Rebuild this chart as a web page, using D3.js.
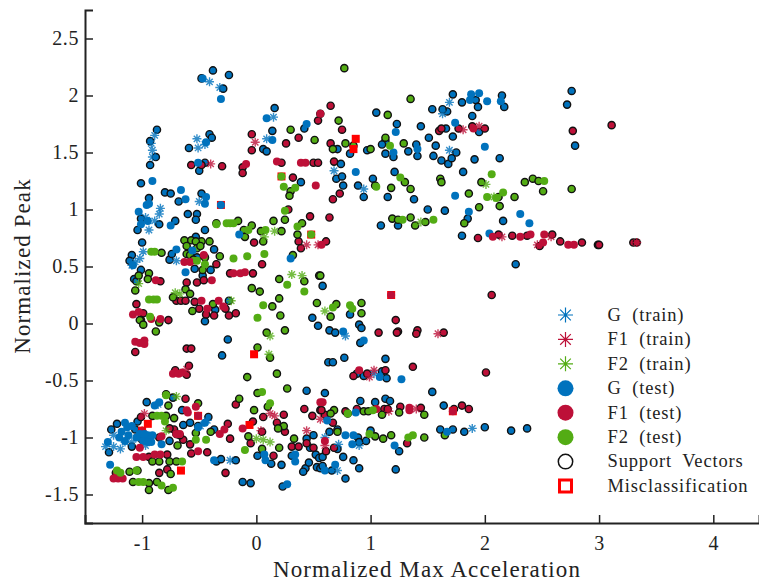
<!DOCTYPE html>
<html>
<head>
<meta charset="utf-8">
<script src="https://cdn.jsdelivr.net/npm/d3@7"></script>
<style>
  html, body { margin: 0; padding: 0; background: #fff; }
  svg { display: block; }
  text { font-family: "Liberation Serif", serif; fill: #222; }
</style>
</head>
<body>
<div id="chart"></div>
<script>
const xTicks = [-1, 0, 1, 2, 3, 4]
const yTicks = [-1.5, -1, -0.5, 0, 0.5, 1, 1.5, 2, 2.5]
const legendLabels = ['G (train)', 'F1 (train)', 'F2 (train)', 'G (test)', 'F1 (test)', 'F2 (test)', 'Support Vectors', 'Misclassification']

// training points (stars) as [x, y]
const gTrain = [[-0.41,2.12],[-0.32,2.07],[0.15,1.81],[-0.89,1.65],[-0.92,1.58],[-0.91,1.52],[-0.91,1.46],[-0.52,1.62],[-0.51,1.54],[-0.45,1.57],[0.09,1.62],[-0.50,1.07],
  [-0.84,1.01],[-0.85,0.96],[-0.94,0.82],[-0.89,0.90],[-0.97,0.93],[-1.02,0.57],[-0.99,0.63],[-0.70,0.55],[-1.06,0.54],[-1.09,0.51],
  [-1.32,-1.08],[-1.25,-1.08],[-1.19,-1.10],[-1.25,-0.98],[-1.15,-1.04],[-1.09,-1.04],[-0.97,-1.07],[-0.23,-1.20],[-0.43,-0.85],[-0.49,-0.90],[-0.86,-0.71],
  [1.69,1.94],[1.63,1.84],[1.69,1.52],[0.68,1.34],[0.94,1.18],
  [0.78,-0.11],[1.89,-0.92],[1.03,-0.44],[0.71,-1.29],[0.72,-1.06],[0.90,-1.07],[0.60,-1.00]]
const f1Train = [[-0.01,1.59],[-0.40,1.40],[0.44,0.69],[0.54,0.69],[-0.61,-0.40],
  [-1.00,-0.94],[-0.98,-0.79],[0.12,-0.79],[0.16,-0.81],[0.44,-0.94],[0.04,-0.94],[0.56,-0.84],
  [1.81,1.70],[1.95,1.73],[2.15,0.76],[2.58,0.76],[3.33,0.71],[2.46,0.69],
  [1.59,-0.09],[1.03,-0.41],[0.99,-0.47],[1.40,-0.75],[1.16,-0.77],[0.60,-1.07]]
const f2Train = [[0.16,0.81],[0.31,0.43],[0.40,0.42],[0.12,-0.11],[-0.71,0.27],[-0.67,0.26],[-0.22,0.20],[-1.03,0.35],[0.07,0.76],[0.11,-0.27],
  [0,-1.01],[0.06,-1.02],[0.12,-1.04],[-0.79,-0.94],[-0.70,-0.64],
  [1.44,0.89],[2.01,1.22],[2.08,1.11],[0.60,0.11]]

// test points without a ring
const gTest = [[-0.47,2.15],[-0.31,1.97],[0.09,1.80],[0.14,1.61],[0.44,1.75],[-0.91,1.25],[-0.66,1.17],[-0.62,1.09],[-0.44,1.11],[-0.51,1.41],[-0.44,1.59],
  [-0.31,1.04],[-1.03,0.98],[-0.96,1.04],[-0.94,1.05],[-1.01,0.87],[-0.95,0.90],[-0.75,0.86],[-0.45,1.05],[-0.15,0.78],[-0.70,0.65],[-0.62,0.45],[-0.56,0.64],[0.30,0.57],[-1.08,0.51],
  [-1.15,-0.87],[-1.13,-0.91],[-1.18,-0.95],[-1.15,-1.03],[-1.09,-0.90],[-0.99,-1.03],[-0.95,-0.98],[-0.91,-0.98],[-0.92,-1.04],[-0.83,-1.06],[-1.28,-1.24],[-1.30,-1.04],[-0.37,-1.20],[-0.89,-0.72],[-0.85,-0.69],[-0.51,-0.91],[-0.45,-0.87],[0.27,-1.41],[0.07,-1.15],[0.08,-1.20],[0.34,-1.21],[0.34,-1.15],
  [-1.20,-1.00],[-1.12,-0.98],[-1.05,-1.00],[-1.02,-0.97],[-0.98,-0.97],[-0.95,-1.04],
  [1.88,2.01],[1.95,2.02],[1.87,1.96],[2.02,1.95],[2.14,1.95],[1.74,1.76],[1.22,1.68],[1.20,1.50],[1.41,1.53],[2.00,1.55],[0.87,1.33],[1.74,1.12],[1.86,0.98],[2.31,0.96],[2.39,0.88],[2.04,0.79],
  [1.27,-0.49],[1.08,-0.47],[0.87,-0.78],[0.78,-0.98],[0.85,-0.98],[0.84,-1.06],[1.21,-1.07],[1.67,-0.95],[0.69,-1.24],[0.60,-1.29],[0.94,-0.15],[0.76,-0.07],[0.62,-0.85]]
const f1Test = [[-0.09,1.40],[0.18,1.42],[0.39,1.41],[0.43,1.41],[0.52,1.21],[0.56,1.84],
  [-0.20,0.44],[-0.14,0.44],[-0.10,0.45],[-0.88,0.38],[-0.39,0.38],[-0.48,0.20],[-0.33,0.20],[-0.29,0.15],[-1.08,0.08],[-1.03,0.10],[-0.92,0.04],[-0.84,0.04],[-1.06,-0.16],[-0.98,-0.15],[-0.98,-0.18],[-1.02,-0.17],[-0.63,0.54],[-0.58,0.54],[-0.46,0.60],[-0.43,0.13],
  [-0.53,-0.73],[-0.51,-0.81],[-1.02,-1.09],[-1.05,-1.17],[-0.99,-1.17],[-0.89,-1.15],[-0.84,-1.15],[-1.25,-1.36],[-1.21,-1.36],[-1.17,-1.36],[-0.51,-1.12],[-0.32,-0.97],[-0.28,-0.93],[-0.12,-0.92],[-0.73,-0.44],[-0.68,-0.44],[-0.65,-0.43],[-0.67,-0.97],[-0.61,-0.76],[-0.60,-0.78],[-0.70,-0.97],[-0.83,-0.99],[0.56,-0.69],
  [1.90,1.71],[2.31,0.76],[2.40,0.78],[2.52,0.78],[2.07,0.76],[2.73,0.69],[2.78,0.69],[2.51,0.71],[0.57,0.69],
  [0.90,-0.41],[1.18,0.25],[1.34,-0.74],[1.34,-0.76],[1.05,-0.75],[0.60,-1.03],[0.58,-0.69],[1.72,-0.77]]
const f2Test = [[0.22,1.29],[0.24,1.20],[0.34,1.19],
  [-0.26,0.88],[-0.23,0.88],[-0.20,0.88],[0.08,0.82],[-0.20,0.57],[-0.08,0.59],[0.07,0.61],[0.27,0.34],[0.42,0.28],[0.06,0.16],[0.01,0.05],[0.25,0.99],[0.48,0.78],[0.36,0.85],[-0.92,0.63],[-0.89,0.63],[-0.94,0.21],[-0.90,0.21],[-0.87,0.21],[-0.93,0.06],[-0.52,0.55],[-0.45,0.52],[-0.07,0.82],[-0.35,0.87],
  [0.05,-0.60],[0.12,-0.70],[-0.10,-1.11],[-0.87,-0.81],[-0.83,-0.81],[-0.80,-0.86],[-0.53,-1.02],[-0.44,-1.02],[-0.65,-1.21],[-0.99,-1.39],[-1.03,-1.39],[-0.83,-1.42],[-0.73,-1.44],[-1.05,-1.29],[-0.79,-0.63],[-1.22,-1.29],[-1.19,-1.31],
  [1.26,1.28],[1.05,1.20],[1.28,0.91],[1.55,0.91],[2.06,1.31],[2.52,1.25],[2.16,1.15],[2.02,1.11],[2.10,1.10],[1.17,1.56],
  [0.67,0.14],[0.82,0.16],[0.84,0.13],[1.02,-0.76],[0.80,-0.79],[0.99,-0.97],[1.33,-1.00],[1.37,-0.98]]

// support vectors, same classes but with the black ring
const gSupport = [[-0.38,2.22],[-0.24,2.18],[-0.48,2.15],[-0.29,2.06],[-0.87,1.70],[-0.93,1.60],[-0.41,1.66],[-0.39,1.63],[-0.59,1.54],[-0.88,1.46],[-0.93,1.39],[-0.45,1.41],[-0.50,1.34],[0.06,1.53],[0.09,1.51],[0.16,1.89],[0.14,1.69],[0.42,1.71],[0.39,1.24],[-1.01,1.23],[-0.80,1.15],[-0.75,1.14],[-0.48,1.14],[-0.94,1.10],[-0.68,1.07],
  [-0.60,0.96],[-0.52,0.96],[-0.53,0.91],[-1.01,0.92],[-0.85,0.87],[-0.71,0.90],[-1.04,0.82],[-0.45,0.82],[-1.00,0.71],[-1.09,0.60],[-1.11,0.55],[-0.76,0.56],[-0.74,0.61],[-0.53,0.76],[-0.52,0.58],[-0.54,0.48],[-0.47,0.42],[-0.40,0.47],[-0.37,0.65],[-1.01,0.47],[-1.07,0.39],[-1.05,0.37],[-0.36,0.12],[-0.45,0.02],[-0.25,-0.14],[-0.30,-0.28],[0.49,0.05],[0.54,-0.02],[-0.24,0.20],
  [-1.22,-0.88],[-1.27,-0.93],[-1.29,-1.13],[-1.06,-0.93],[-1.04,-0.86],[-0.96,-0.69],[-1.00,-1.02],[-1.09,-1.08],[-0.73,-0.65],[-0.65,-0.76],[-0.64,-0.89],[-0.58,-0.87],[-0.51,-0.90],[-0.42,-0.82],[-0.76,-1.03],[-0.37,-0.93],[-0.35,-1.21],[-0.31,-1.19],[-0.18,-1.20],[-0.12,-1.39],[-0.05,-1.40],[0.23,-1.43],[0.44,-0.59],[0.01,-1.16],[0.13,-1.23],[0.22,-1.24],[0.31,-1.16],[0.43,-1.27],[0.41,-1.30],[0.46,-1.22],[0.53,-1.26],[0.56,-1.27],[0.44,-1.01],[0.50,-0.98],[0.52,-1.15],[0.47,-1.09],[0.55,-1.18],
  [1.05,1.85],[1.23,1.75],[1.44,1.73],[1.54,1.88],[1.72,2.01],[1.80,1.94],[1.92,1.96],[1.94,1.90],[1.89,1.82],[2.15,2.00],[2.17,1.90],[1.67,1.86],[1.63,1.88],[2.76,2.04],[2.72,1.92],[2.79,1.56],[1.66,1.71],[1.95,1.68],[1.72,1.64],[1.51,1.63],[1.57,1.56],[1.40,1.57],[1.33,1.51],[1.13,1.60],[1.10,1.57],[1.13,1.49],[1.20,1.46],[1.41,1.47],[1.55,1.47],[1.62,1.43],[1.68,1.40],[1.71,1.45],[1.75,1.50],[1.91,1.44],[2.13,1.45],[1.81,1.33],[1.21,1.33],[1.02,1.27],[0.89,1.21],[0.94,1.11],[1.15,1.11],[1.38,1.09],[1.50,1.00],[1.65,0.99],[1.85,0.92],[2.16,0.90],[1.24,0.86],[1.09,0.86],[1.80,0.77],[0.97,1.52],[0.82,1.49],[0.71,1.53],[0.74,1.40],[0.70,1.27],[0.75,1.29],[0.76,1.21],
  [2.27,0.52],[0.58,0.33],[0.82,0.08],[0.90,-0.01],[0.92,-0.04],[0.64,-0.06],[0.69,-0.08],[0.91,-0.17],[0.63,-0.34],[0.67,-0.34],[0.77,-0.30],[1.13,-0.31],[0.88,-0.44],[0.94,-0.46],[1.10,-0.42],[1.14,-0.48],[1.54,-0.60],[0.60,-0.61],[0.91,-0.68],[1.04,-0.69],[1.13,-0.66],[1.17,-0.68],[1.64,-0.72],[2.00,-0.91],[1.61,-0.93],[1.72,-0.93],[1.82,-0.95],[2.23,-0.94],[2.37,-0.92],[1.00,-0.94],[0.64,-0.95],[0.89,-1.00],[0.90,-1.04],[0.96,-1.03],[0.71,-0.93],[1.25,-1.12],[0.85,-1.20],[0.76,-1.17],[0.90,-1.27],[1.22,-1.28],[0.78,-1.36],[0.66,-1.29],[0.58,-1.25],[0.58,-1.17],[0.71,-1.10]]
const f1Support = [[-0.57,1.39],[-0.30,1.38],[-0.48,1.39],[-0.04,1.66],[-0.04,1.52],[-0.12,1.37],[-0.12,1.32],[0.22,1.41],[0.26,1.58],[0.37,1.63],[0.54,1.78],[0.32,1.28],[0.50,1.41],[0.54,1.41],
  [0.28,1.00],[0.47,0.94],[0.37,0.72],[0.39,0.66],[-0.02,0.71],[0.05,0.52],[-0.35,0.52],[-0.03,0.44],[-0.23,0.44],[-0.84,0.37],[-0.61,0.36],[-0.52,0.36],[-0.46,0.38],[-0.70,0.20],[-0.66,0.20],[-0.62,0.20],[-0.54,0.19],[-1.05,0.17],[-0.99,0.09],[-1.01,0.03],[-0.77,0.03],[-0.50,0.13],[-0.44,0.08],[-0.37,0.07],[-0.27,0.13],[-0.24,0.07],[-0.18,0.09],[-1.06,-0.25],[-0.61,-0.22],[-0.57,-0.22],[-0.71,-0.41],[-0.59,-0.37],
  [-1.01,-0.82],[-0.62,-0.66],[-0.72,-0.93],[-0.64,-1.02],[-0.58,-1.06],[-0.57,-1.14],[-0.43,-1.13],[-0.78,-1.15],[-0.94,-1.17],[-0.85,-1.31],[-0.78,-1.28],[-0.27,-1.31],[-0.18,-0.71],[-0.03,-0.86],[-0.25,-0.88],[-0.23,-1.01],[-0.05,-1.05],[0.05,-0.95],[0.06,-0.82],[0.24,-0.80],[0.18,-0.87],[0.25,-0.95],[0.42,-0.75],[0.49,-0.81],[0.56,-0.76],[0.31,-1.08],[0.37,-1.08],[0.44,-1.05],[0.50,-1.09],[0.15,-1.16],[-0.61,-0.45],[-1.23,-1.31],[-0.85,-1.00],[-0.93,-0.99],[-0.70,-0.97],[-0.67,-0.98],[-0.76,-0.92],
  [0.65,1.91],[0.56,1.84],[0.75,1.70],[0.65,1.58],[0.68,1.42],[0.73,1.14],[0.67,1.09],[0.64,0.93],[0.61,0.72],[3.11,1.74],[2.77,1.69],[1.60,1.69],[1.62,1.71],[1.77,1.71],[1.89,1.73],[2.00,1.71],[1.94,0.75],[2.12,0.78],[2.24,0.77],[2.37,0.77],[2.59,0.78],[2.66,0.72],[2.48,0.68],[2.85,0.71],[2.99,0.69],[3.00,0.69],[3.30,0.71],[3.33,0.71],
  [2.06,0.25],[1.22,0.03],[1.07,-0.08],[1.24,-0.07],[1.23,-0.08],[1.41,-0.06],[1.40,-0.09],[1.64,-0.08],[1.37,-0.38],[2.01,-0.43],[0.85,-0.46],[0.97,-0.44],[1.13,-0.41],[1.44,-0.74],[1.26,-0.73],[1.73,-0.75],[1.80,-0.72],[1.86,-0.75],[1.12,-0.75],[1.15,-0.75],[1.32,-1.05],[0.60,-0.80],[0.67,-0.87],[0.68,-1.09],[0.61,-1.12],[0.57,-0.76],[0.88,-0.75],[0.78,-0.77]]
const f2Support = [[0.30,1.70],[0.51,1.61],[0.30,1.16],[0.29,1.12],
  [-0.35,0.88],[-0.16,0.90],[-0.04,0.86],[-0.11,0.82],[-0.10,0.76],[0.04,0.81],[0.06,0.72],[0.15,0.90],[0.25,0.91],[0.22,0.81],[0.40,0.88],[0.36,0.78],[0.32,0.60],[-0.83,0.62],[-0.63,0.73],[-0.57,0.73],[-0.48,0.72],[-0.41,0.72],[-0.61,0.61],[-0.32,0.59],[-0.94,0.44],[-0.95,0.39],[-1.03,0.42],[-1.06,0.29],[-0.62,0.30],[-0.58,0.26],[-0.73,0.23],[-0.47,0.47],[-0.04,0.31],[0.03,0.28],[0.20,0.22],[0.14,0.15],[0.21,0.07],[0.25,-0.06],[0.09,-0.08],[0.01,-0.21],[0.12,-0.30],[-0.56,0.11],[-0.38,0.17],[-1.02,0.03],[-0.99,-0.01],[-0.85,0.01],[-0.88,-0.07],[0.20,0.39],[0.42,0.37],[0.53,0.18],[0.55,0.42],[-0.53,0.72],[-0.61,0.68],[-0.58,0.60],[-0.52,0.66],[-0.45,0.58],[-0.49,0.68],[-0.55,0.56],
  [-0.08,-0.47],[0.18,-0.44],[0.27,-0.57],[0.01,-0.61],[-0.15,-0.66],[0.10,-0.73],[-0.02,-0.76],[-0.79,-0.62],[-0.77,-0.72],[-0.79,-0.81],[-0.72,-0.83],[-0.51,-0.70],[-0.91,-0.81],[-0.53,-0.96],[-0.40,-0.95],[-0.69,-1.07],[-0.91,-1.21],[-0.85,-1.21],[-0.76,-1.21],[-0.70,-1.21],[-0.75,-1.32],[-1.11,-1.30],[-1.04,-1.29],[-1.08,-1.39],[-0.94,-1.40],[-0.87,-1.39],[-0.94,-1.46],[-0.77,-1.46],[-0.07,-0.99],[0.05,-1.10],[0.20,-1.09],[0.33,-1.01],[0.24,-0.90],[0.19,-0.92],
  [0.77,2.24],[1.35,1.97],[1.15,1.83],[0.72,1.78],[1.13,1.63],[1.29,1.58],[1.00,1.53],[0.78,1.58],[0.85,1.56],[0.67,1.53],[1.61,1.27],[1.62,1.24],[1.04,1.21],[1.30,1.24],[1.18,1.19],[1.35,1.18],[1.97,1.24],[1.86,1.14],[2.12,1.11],[2.26,1.11],[2.35,1.24],[2.42,1.27],[2.47,1.25],[2.51,1.16],[2.76,1.18],[1.95,1.02],[2.13,1.03],[1.82,0.88],[1.19,0.92],[1.24,0.91],[1.35,0.93],[1.48,0.89],[1.39,0.86],
  [0.70,0.17],[0.92,0.18],[0.92,0.09],[0.65,0.06],[0.56,0.42],[0.68,-0.76],[0.65,-0.79],[0.80,-0.79],[0.94,-0.77],[0.98,-0.77],[1.10,-0.80],[1.25,-0.78],[1.47,-0.80],[0.71,-0.95],[1.04,-0.99],[1.11,-1.01],[1.18,-0.98],[1.47,-1.00],[1.65,-0.98]]
const misclassified = [[0.22,1.29],[-0.31,1.04],[-0.02,-0.27],[0.48,0.78],[-0.95,-0.88],[-0.51,-0.81],[-0.66,-1.29],[-0.06,-0.89],[-1.00,-0.94],[0.87,1.62],[0.85,1.53],[1.18,0.25],[1.72,-0.77]]

const blue = '#0072bd'
const red = '#bd1038'
const green = '#53ac14'

const margin = { top: 10, right: 0, bottom: 62, left: 85 }
const width = 759 - margin.left - margin.right
const height = 585 - margin.top - margin.bottom

const svg = d3
  .select('#chart')
  .append('svg')
  .attr('width', width + margin.left + margin.right)
  .attr('height', height + margin.top + margin.bottom)

const chart = svg
  .append('g')
  .attr('transform', 'translate(' + margin.left + ',' + margin.top + ')')

const xPositionScale = d3.scaleLinear().domain([-1.5, 4.4]).range([0, width])
const yPositionScale = d3.scaleLinear().domain([-1.75, 2.75]).range([height, 0])

// asterisk made of four crossing lines
function starPath(r) {
  const d = r * Math.SQRT1_2
  return `M${-r},0L${r},0M0,${-r}L0,${r}M${-d},${-d}L${d},${d}M${-d},${d}L${d},${-d}`
}

function drawStars(datapoints, color) {
  chart
    .append('g')
    .selectAll('path')
    .data(datapoints)
    .enter()
    .append('path')
    .attr('d', starPath(4.5))
    .attr('transform', d => `translate(${xPositionScale(d[0])},${yPositionScale(d[1])})`)
    .attr('fill', 'none')
    .attr('stroke', color)
    .attr('stroke-width', 1.4)
    .attr('opacity', 0.8)
}

function drawDots(datapoints, color) {
  chart
    .append('g')
    .selectAll('circle')
    .data(datapoints)
    .enter()
    .append('circle')
    .attr('cx', d => xPositionScale(d[0]))
    .attr('cy', d => yPositionScale(d[1]))
    .attr('r', 4)
    .attr('fill', color)
}

function drawSupport(datapoints, color) {
  chart
    .append('g')
    .selectAll('circle')
    .data(datapoints)
    .enter()
    .append('circle')
    .attr('cx', d => xPositionScale(d[0]))
    .attr('cy', d => yPositionScale(d[1]))
    .attr('r', 3.6)
    .attr('fill', color)
    .attr('stroke', '#111')
    .attr('stroke-width', 1.4)
}

drawSupport(gSupport, blue)
drawSupport(f1Support, red)
drawSupport(f2Support, green)

chart
  .append('g')
  .selectAll('rect')
  .data(misclassified)
  .enter()
  .append('rect')
  .attr('x', d => xPositionScale(d[0]) - 4)
  .attr('y', d => yPositionScale(d[1]) - 4)
  .attr('width', 8)
  .attr('height', 8)
  .attr('fill', '#f00')

drawStars(gTrain, blue)
drawStars(f1Train, red)
drawStars(f2Train, green)
drawDots(gTest, blue)
drawDots(f1Test, red)
drawDots(f2Test, green)

const xAxis = d3
  .axisBottom(xPositionScale)
  .tickValues(xTicks)
  .tickSize(-8)
  .tickPadding(13)
  .tickFormat(d => String(d))

const yAxis = d3
  .axisLeft(yPositionScale)
  .tickValues(yTicks)
  .tickSize(-8)
  .tickPadding(6)
  .tickFormat(d => String(d))

chart
  .append('g')
  .attr('class', 'axis x-axis')
  .attr('transform', 'translate(0,' + height + ')')
  .call(xAxis)

chart
  .append('g')
  .attr('class', 'axis y-axis')
  .call(yAxis)

svg.selectAll('.axis .domain').attr('stroke', '#222').attr('stroke-width', 2)
svg.selectAll('.axis .tick line').attr('stroke', '#222').attr('stroke-width', 1.5)
svg
  .selectAll('.axis text')
  .attr('font-size', 20)
  .attr('letter-spacing', 0.6)
  .attr('font-family', '"Liberation Serif", serif')
  .attr('fill', '#222')

svg
  .append('text')
  .attr('x', 427)
  .attr('y', 577)
  .attr('text-anchor', 'middle')
  .attr('font-size', 23)
  .attr('letter-spacing', 1.1)
  .text('Normalized Max Acceleration')

svg
  .append('text')
  .attr('transform', 'translate(30,266) rotate(-90)')
  .attr('text-anchor', 'middle')
  .attr('font-size', 23)
  .attr('letter-spacing', 1.1)
  .text('Normalized Peak')

// legend
const legendY = d3.scalePoint().domain(legendLabels).range([315, 486])
const legendColors = [blue, red, green, blue, red, green]

const legend = svg
  .append('g')
  .selectAll('g')
  .data(legendLabels)
  .enter()
  .append('g')
  .attr('transform', d => `translate(565.5,${legendY(d)})`)

legend
  .append('text')
  .attr('x', 42)
  .attr('dy', '0.32em')
  .attr('font-size', 18.5)
  .attr('letter-spacing', 0.85)
  .attr('word-spacing', 5)
  .text(d => d)

legend
  .filter((d, i) => i < 3)
  .append('path')
  .attr('d', starPath(7.5))
  .attr('fill', 'none')
  .attr('stroke', (d, i) => legendColors[i])
  .attr('stroke-width', 1.2)

legend
  .filter((d, i) => i >= 3 && i < 6)
  .append('circle')
  .attr('r', 8)
  .attr('fill', (d, i) => legendColors[i + 3])

legend
  .filter((d, i) => i === 6)
  .append('circle')
  .attr('r', 7.2)
  .attr('fill', '#fff')
  .attr('stroke', '#111')
  .attr('stroke-width', 1.5)

legend
  .filter((d, i) => i === 7)
  .append('rect')
  .attr('x', -6)
  .attr('y', -6)
  .attr('width', 12)
  .attr('height', 12)
  .attr('fill', '#fff')
  .attr('stroke', '#f00')
  .attr('stroke-width', 3)
</script>
</body>
</html>
